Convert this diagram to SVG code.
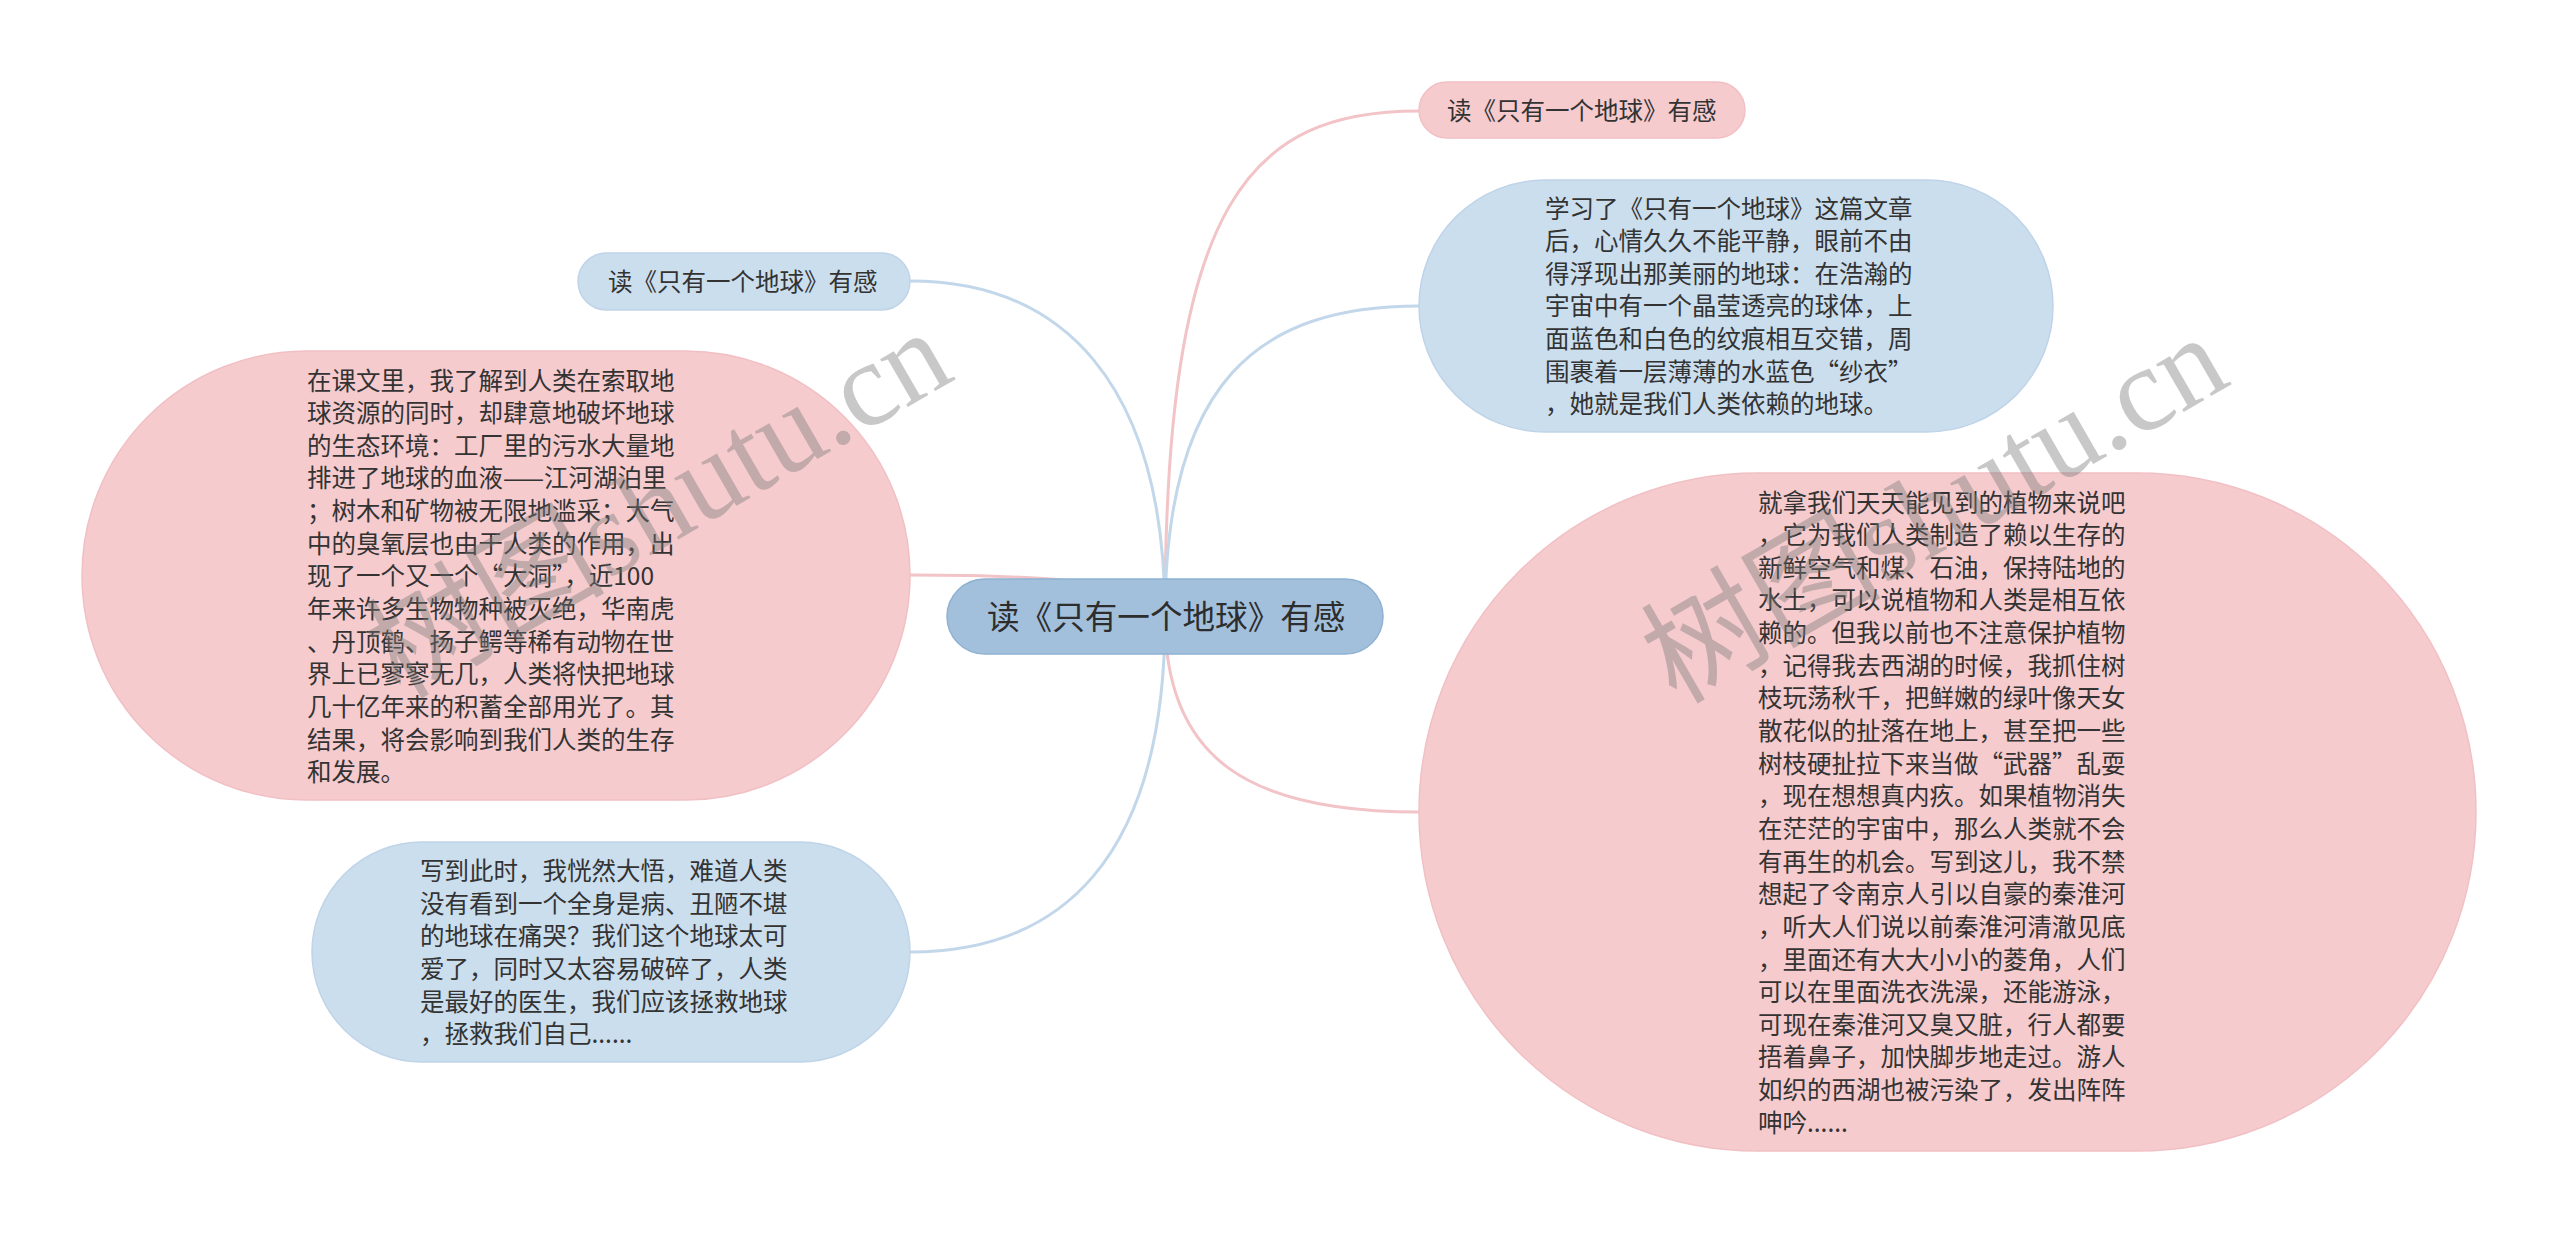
<svg xmlns="http://www.w3.org/2000/svg" width="2560" height="1234" viewBox="0 0 2560 1234">
<style>
.np{fill:#f5cbce;stroke:#f1c0c4;stroke-width:1.5}
.nb{fill:#cbdeee;stroke:#bfd4e8;stroke-width:1.5}
.nc{fill:#a2c0dc;stroke:#8fb1d2;stroke-width:1.5}
.t{font-family:'Noto Sans CJK SC','Liberation Sans',sans-serif;font-size:24.5px;fill:#333}
.tc{font-family:'Noto Sans CJK SC','Liberation Sans',sans-serif;font-size:32.6px;fill:#2d2d2d}
.lp{fill:none;stroke:#f2c3c7;stroke-width:3}
.lb{fill:none;stroke:#c3d7ea;stroke-width:3}
.wm{font-family:'Liberation Serif','Noto Sans CJK SC',serif;font-size:120px;fill:#777;opacity:0.4}
</style>
<rect width="2560" height="1234" fill="#ffffff"/>
<g id="connectors">
<path class="lp" d="M1165,617 C1165,200 1250,111 1419,111"/>
<path class="lb" d="M1165,617 C1165,380 1260,306 1419,306"/>
<path class="lb" d="M1165,617 C1165,380 1060,281 910,281"/>
<path class="lp" d="M1165,617 C1165,590 1100,575 910,575"/>
<path class="lb" d="M1165,617 C1165,860 1060,952 910,952"/>
<path class="lp" d="M1165,617 C1165,760 1250,812 1419,812"/>
</g>
<g id="node-center">
<rect class="nc" x="947" y="579" width="436" height="75" rx="37.5"/>
<text class="tc" x="987" y="629">读《只有一个地球》有感</text>
</g>
<g id="node-tr">
<rect class="np" x="1419" y="82" width="326" height="56" rx="28"/>
<text class="t" x="1447" y="120">读《只有一个地球》有感</text>
</g>
<g id="node-tl">
<rect class="nb" x="578" y="253" width="332" height="57" rx="28.5"/>
<text class="t" x="608" y="290.5">读《只有一个地球》有感</text>
</g>
<g id="node-rb">
<rect class="nb" x="1419" y="180" width="634" height="252" rx="126"/>
<text class="t">
<tspan x="1545" y="217.5">学习了《只有一个地球》这篇文章</tspan>
<tspan x="1545" y="250.1">后，心情久久不能平静，眼前不由</tspan>
<tspan x="1545" y="282.8">得浮现出那美丽的地球：在浩瀚的</tspan>
<tspan x="1545" y="315.4">宇宙中有一个晶莹透亮的球体，上</tspan>
<tspan x="1545" y="348.1">面蓝色和白色的纹痕相互交错，周</tspan>
<tspan x="1545" y="380.7">围裹着一层薄薄的水蓝色“纱衣”</tspan>
<tspan x="1545" y="413.3">，她就是我们人类依赖的地球。</tspan>
</text>
</g>
<g id="node-lp">
<rect class="np" x="82" y="351" width="828" height="449" rx="224.5"/>
<text class="t">
<tspan x="307" y="389.5">在课文里，我了解到人类在索取地</tspan>
<tspan x="307" y="422.1">球资源的同时，却肆意地破坏地球</tspan>
<tspan x="307" y="454.8">的生态环境：工厂里的污水大量地</tspan>
<tspan x="307" y="487.4">排进了地球的血液——江河湖泊里</tspan>
<tspan x="307" y="520.1">；树木和矿物被无限地滥采；大气</tspan>
<tspan x="307" y="552.7">中的臭氧层也由于人类的作用，出</tspan>
<tspan x="307" y="585.3">现了一个又一个“大洞”，近100</tspan>
<tspan x="307" y="618.0">年来许多生物物种被灭绝，华南虎</tspan>
<tspan x="307" y="650.6">、丹顶鹤、扬子鳄等稀有动物在世</tspan>
<tspan x="307" y="683.3">界上已寥寥无几，人类将快把地球</tspan>
<tspan x="307" y="715.9">几十亿年来的积蓄全部用光了。其</tspan>
<tspan x="307" y="748.5">结果，将会影响到我们人类的生存</tspan>
<tspan x="307" y="781.2">和发展。</tspan>
</text>
</g>
<g id="node-lb">
<rect class="nb" x="312" y="842" width="598" height="220" rx="110"/>
<text class="t">
<tspan x="420" y="880">写到此时，我恍然大悟，难道人类</tspan>
<tspan x="420" y="912.6">没有看到一个全身是病、丑陋不堪</tspan>
<tspan x="420" y="945.3">的地球在痛哭？我们这个地球太可</tspan>
<tspan x="420" y="977.9">爱了，同时又太容易破碎了，人类</tspan>
<tspan x="420" y="1010.6">是最好的医生，我们应该拯救地球</tspan>
<tspan x="420" y="1043.2">，拯救我们自己......</tspan>
</text>
</g>
<g id="node-bp">
<rect class="np" x="1419" y="473" width="1057" height="678" rx="339"/>
<text class="t">
<tspan x="1758" y="511.5">就拿我们天天能见到的植物来说吧</tspan>
<tspan x="1758" y="544.1">，它为我们人类制造了赖以生存的</tspan>
<tspan x="1758" y="576.8">新鲜空气和煤、石油，保持陆地的</tspan>
<tspan x="1758" y="609.4">水土，可以说植物和人类是相互依</tspan>
<tspan x="1758" y="642.1">赖的。但我以前也不注意保护植物</tspan>
<tspan x="1758" y="674.7">，记得我去西湖的时候，我抓住树</tspan>
<tspan x="1758" y="707.3">枝玩荡秋千，把鲜嫩的绿叶像天女</tspan>
<tspan x="1758" y="740.0">散花似的扯落在地上，甚至把一些</tspan>
<tspan x="1758" y="772.6">树枝硬扯拉下来当做“武器”乱耍</tspan>
<tspan x="1758" y="805.3">，现在想想真内疚。如果植物消失</tspan>
<tspan x="1758" y="837.9">在茫茫的宇宙中，那么人类就不会</tspan>
<tspan x="1758" y="870.5">有再生的机会。写到这儿，我不禁</tspan>
<tspan x="1758" y="903.2">想起了令南京人引以自豪的秦淮河</tspan>
<tspan x="1758" y="935.8">，听大人们说以前秦淮河清澈见底</tspan>
<tspan x="1758" y="968.5">，里面还有大大小小的菱角，人们</tspan>
<tspan x="1758" y="1001.1">可以在里面洗衣洗澡，还能游泳，</tspan>
<tspan x="1758" y="1033.7">可现在秦淮河又臭又脏，行人都要</tspan>
<tspan x="1758" y="1066.4">捂着鼻子，加快脚步地走过。游人</tspan>
<tspan x="1758" y="1099.0">如织的西湖也被污染了，发出阵阵</tspan>
<tspan x="1758" y="1131.7">呻吟......</tspan>
</text>
</g>
<g id="watermark">
<text class="wm" transform="translate(400,700) rotate(-30)">树图shutu.cn</text>
<text class="wm" transform="translate(1676,705) rotate(-30)">树图shutu.cn</text>
</g>
</svg>
